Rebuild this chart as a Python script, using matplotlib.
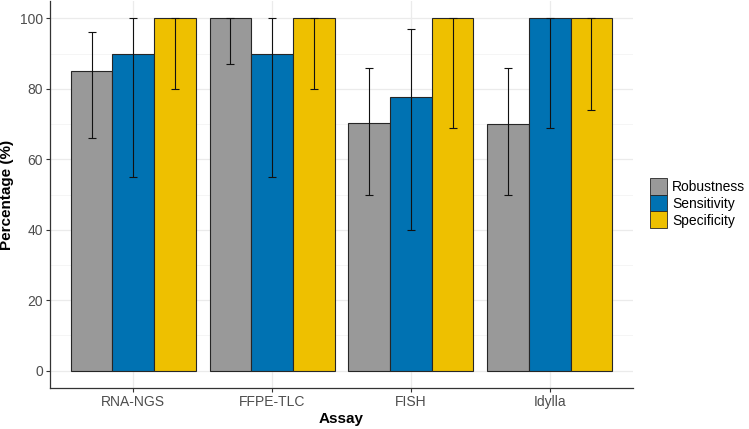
import matplotlib
matplotlib.use("Agg")
import matplotlib.pyplot as plt
from matplotlib.patches import Patch
import numpy as np

plt.rcParams['font.family'] = ['Liberation Sans', 'DejaVu Sans']

assays = ["RNA-NGS", "FFPE-TLC", "FISH", "Idylla"]
series = ["Robustness", "Sensitivity", "Specificity"]
robustness = [85, 100, 70.3, 70]
rob_lo = [66, 87, 50, 50]
rob_hi = [96, 100, 86, 86]
sensitivity = [90, 90, 77.8, 100]
sens_lo = [55, 55, 40, 69]
sens_hi = [100, 100, 97, 100]
specificity = [100, 100, 100, 100]
spec_lo = [80, 80, 69, 74]
spec_hi = [100, 100, 100, 100]
colors = ["#999999", "#0072B2", "#EEC000"]

fig = plt.figure(figsize=(7.49, 4.29), dpi=100)
ax = fig.add_axes([50/749, 1-388.3/429, (633-50)/749, (388.3-0.7)/429])

x = np.arange(1, len(assays)+1)
w = 0.3
vals = [robustness, sensitivity, specificity]
los = [rob_lo, sens_lo, spec_lo]
his = [rob_hi, sens_hi, spec_hi]
for i, (v, lo, hi, c) in enumerate(zip(vals, los, his, colors)):
    v = np.array(v, float)
    lo = np.array(lo, float)
    hi = np.array(hi, float)
    xi = x + (i-1)*w
    ax.bar(xi, v, width=w, color=c, edgecolor="#262626", linewidth=0.8, zorder=2)
    ax.errorbar(xi, v, yerr=[v-lo, hi-v], fmt='none', ecolor="#111111",
                elinewidth=0.8, capsize=3.1, capthick=0.8, zorder=3)

ax.set_xlim(0.4, 4.6)
ax.set_ylim(-5, 105)
ax.set_xticks(x)
ax.set_xticklabels(assays)
ax.set_yticks([0, 20, 40, 60, 80, 100])
ax.set_yticks([10, 30, 50, 70, 90], minor=True)
ax.grid(True, which='major', color="#EBEBEB", linewidth=0.9, zorder=0)
ax.grid(True, which='minor', axis='y', color="#F4F4F4", linewidth=0.6, zorder=0)
ax.set_axisbelow(True)
for s in ['top', 'right']:
    ax.spines[s].set_visible(False)
for s in ['left', 'bottom']:
    ax.spines[s].set_color("#333333")
    ax.spines[s].set_linewidth(0.9)
ax.tick_params(axis='both', which='major', colors="#333333", length=3, width=0.8,
               labelsize=10, labelcolor="#4D4D4D", pad=2)
ax.tick_params(axis='y', which='minor', length=0)
ax.set_xlabel("Assay", fontsize=11, fontweight='bold', labelpad=2)
ax.set_ylabel("Percentage (%)", fontsize=11, fontweight='bold', labelpad=4)

handles = [Patch(facecolor=c, edgecolor="#262626", linewidth=0.6) for c in colors]
fig.legend(handles, series, loc='center left', bbox_to_anchor=(643/749, 1-203/429),
           frameon=False, fontsize=10, handlelength=1.25, handleheight=1.5,
           labelspacing=0.0, handletextpad=0.35, borderpad=0)

fig.savefig("out.png", dpi=100)
